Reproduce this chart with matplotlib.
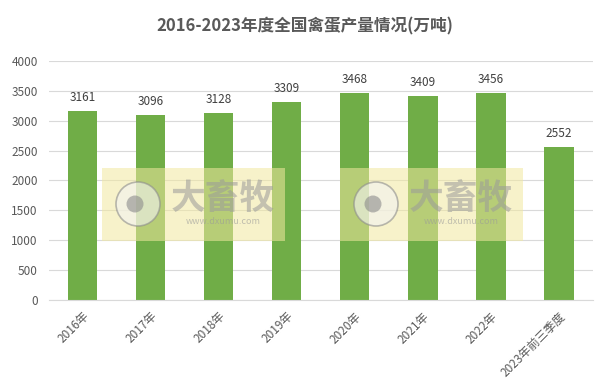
import matplotlib.pyplot as plt
from matplotlib.patches import Rectangle, Circle

plt.rcParams['font.family'] = ['Noto Sans CJK SC', 'DejaVu Sans']

categories = ['2016年', '2017年', '2018年', '2019年', '2020年', '2021年', '2022年', '2023年前三季度']
output = [3161, 3096, 3128, 3309, 3468, 3409, 3456, 2552]
yticks = [0, 500, 1000, 1500, 2000, 2500, 3000, 3500, 4000]

fig = plt.figure(figsize=(6.1, 3.81), dpi=100)
ax = fig.add_axes([0.080, 0.2126, 0.892, 0.6274])

x = range(len(categories))
bars = ax.bar(x, output, width=0.43, color='#70AD47', zorder=2)
for xi, v in zip(x, output):
    ax.text(xi, v + 120, str(v), ha='center', va='bottom', fontsize=8.5, color='#404040')

ax.set_xlim(-0.5, len(categories) - 0.5)
ax.set_ylim(0, 4000)
ax.set_yticks(yticks)
ax.set_xticks(list(x))
ax.set_xticklabels(categories, rotation=45, ha='right', rotation_mode='anchor', fontsize=8.5, color='#595959')
ax.tick_params(axis='y', labelsize=8.5, labelcolor='#595959', length=0, pad=8)
ax.tick_params(axis='x', length=0, pad=7)
ax.grid(axis='y', color='#D9D9D9', linewidth=0.8, zorder=0)
for s in ['top', 'right', 'left']:
    ax.spines[s].set_visible(False)
ax.spines['bottom'].set_color('#D9D9D9')

fig.text(0.5, 0.93, '2016-2023年度全国禽蛋产量情况(万吨)', ha='center', va='center',
         fontsize=12, fontweight='bold', color='#595959')

# watermark boxes (positions in pixels -> inches)
tr = fig.dpi_scale_trans
for x0 in [102, 340]:
    fig.patches.append(Rectangle((x0 / 100, (381 - 241) / 100), 1.83, 0.73, transform=tr,
                                 facecolor='#F2E9A0', alpha=0.55, edgecolor='none', zorder=5))
    fig.patches.append(Circle(((x0 + 36) / 100, (381 - 204) / 100), 0.22, transform=tr,
                              facecolor='#F2F2F2', edgecolor='#8C8C8C', alpha=0.6, linewidth=1.2, zorder=6))
    fig.patches.append(Circle(((x0 + 33) / 100, (381 - 204) / 100), 0.085, transform=tr,
                              facecolor='#8C8C8C', alpha=0.6, zorder=7))
    fig.text((x0 + 121) / 610, 1 - 198 / 381, '大畜牧', ha='center', va='center', fontsize=25,
             fontweight='bold', color='#9A9A9A', alpha=0.55, zorder=8)
    fig.text((x0 + 121) / 610, 1 - 222 / 381, 'www.dxumu.com', ha='center', va='center', fontsize=6.5,
             color='#9A9A9A', alpha=0.6, zorder=8)

fig.savefig('out.png', dpi=100)
